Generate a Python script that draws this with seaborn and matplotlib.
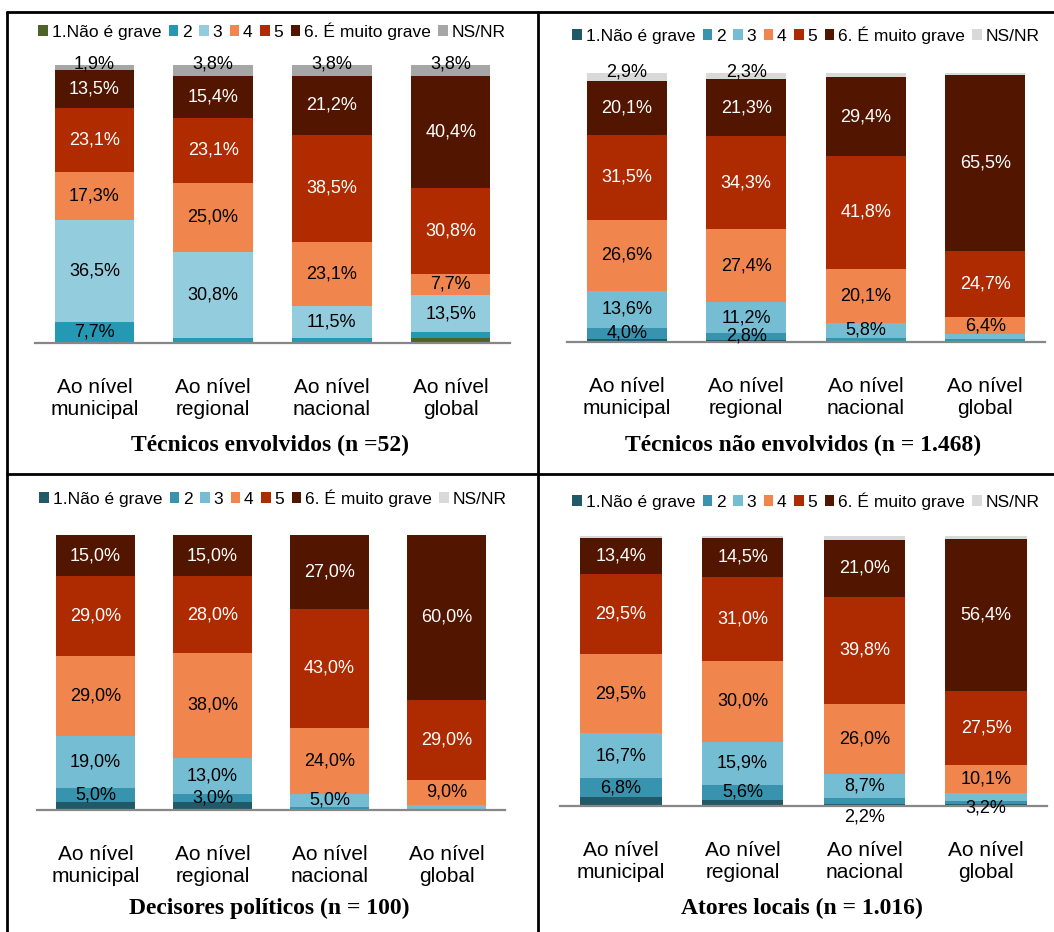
import matplotlib
matplotlib.use("Agg")
import matplotlib.pyplot as plt
from matplotlib.patches import Patch
from matplotlib.lines import Line2D
import numpy as np
import seaborn as sns

levels = ["municipal", "regional", "nacional", "global"]
tick_labels = ["Ao nível\nmunicipal", "Ao nível\nregional", "Ao nível\nnacional", "Ao nível\nglobal"]
categories = ["1.Não é grave", "2", "3", "4", "5", "6. É muito grave", "NS/NR"]

# linhas = níveis, colunas = categorias (1..6, NS/NR)
tec_envolvidos = [
    [0.0, 7.7, 36.5, 17.3, 23.1, 13.5, 1.9],
    [0.0, 1.9, 30.8, 25.0, 23.1, 15.4, 3.8],
    [0.0, 1.9, 11.5, 23.1, 38.5, 21.2, 3.8],
    [1.9, 1.9, 13.5, 7.7, 30.8, 40.4, 3.8],
]
tec_nao_envolvidos = [
    [1.3, 4.0, 13.6, 26.6, 31.5, 20.1, 2.9],
    [0.7, 2.8, 11.2, 27.4, 34.3, 21.3, 2.3],
    [0.5, 0.9, 5.8, 20.1, 41.8, 29.4, 1.5],
    [0.4, 0.6, 1.8, 6.4, 24.7, 65.5, 0.6],
]
decisores = [
    [3.0, 5.0, 19.0, 29.0, 29.0, 15.0, 0.0],
    [3.0, 3.0, 13.0, 38.0, 28.0, 15.0, 0.0],
    [0.0, 1.0, 5.0, 24.0, 43.0, 27.0, 0.0],
    [0.0, 0.0, 2.0, 9.0, 29.0, 60.0, 0.0],
]
atores = [
    [3.4, 6.8, 16.7, 29.5, 29.5, 13.4, 0.7],
    [2.3, 5.6, 15.9, 30.0, 31.0, 14.5, 0.7],
    [0.8, 2.2, 8.7, 26.0, 39.8, 21.0, 1.5],
    [0.8, 1.0, 3.2, 10.1, 27.5, 56.4, 1.0],
]
titles = ["Técnicos envolvidos (n =52)", "Técnicos não envolvidos (n = 1.468)",
          "Decisores políticos (n = 100)", "Atores locais (n = 1.016)"]

pal_first = ["#4F6228", "#2399B3", "#93CDDD", "#F0854D", "#B02B00", "#521500", "#A6A6A6"]
pal_rest = ["#215968", "#3894AE", "#75BDD3", "#F0854D", "#AE2A00", "#521500", "#D9D9D9"]

sns.set_style("white")
plt.rcParams["font.family"] = ["Liberation Sans", "DejaVu Sans"]
plt.rcParams["text.color"] = "black"
plt.rcParams["xtick.color"] = "black"

W, H = 1054, 932
fig = plt.figure(figsize=(W / 100, H / 100), dpi=100)

# posições dos painéis em pixels: esquerda, base (linha do eixo), largura, topo
panels = [
    (tec_envolvidos, pal_first, (35, 343, 475, 65), (272, 31), (270, 445)),
    (tec_nao_envolvidos, pal_rest, (567, 342, 478, 73), (806, 35), (803, 445)),
    (decisores, pal_rest, (37, 810, 468, 535), (273, 498), (269, 908)),
    (atores, pal_rest, (560, 806, 487, 536), (806, 501), (802, 908)),
]
# ajustes manuais de rótulos (painel, nível, categoria) -> deslocamento em %
nudges = {(3, 2, 1): -6.0, (3, 3, 2): -4.1}

for p, (data, pal, box, leg_xy, title_xy) in enumerate(panels):
    left, base, width, top = box
    ax = fig.add_axes([left / W, 1 - base / H, width / W, (base - top) / H])
    vals = np.array(data)
    cum = vals.cumsum(axis=1)
    for k in range(len(categories) - 1, -1, -1):
        sns.barplot(x=levels, y=cum[:, k], order=levels, color=pal[k], saturation=1,
                    width=0.67, errorbar=None, linewidth=0, ax=ax)
    for i in range(len(levels)):
        for k in range(1, len(categories)):
            v = vals[i, k]
            if k == 6:
                if v < 1.8:
                    continue
                y = cum[i, k] + 0.5
            else:
                if v <= 2.1:
                    continue
                y = cum[i, k] - v / 2 + nudges.get((p, i, k), 0)
            col = "white" if k in (4, 5) else "black"
            ax.text(i, y, f"{v:.1f}%".replace(".", ","), ha="center", va="center",
                    fontsize=13, color=col)
    ax.set_ylim(0, 100)
    ax.set_xlim(-0.5, 3.5)
    ax.set_yticks([])
    ax.set_xticks(range(4))
    ax.set_xticklabels(tick_labels, fontsize=15)
    ax.tick_params(axis="x", length=0, pad=25)
    ax.set_xlabel("")
    ax.set_ylabel("")
    for s in ["top", "left", "right"]:
        ax.spines[s].set_visible(False)
    ax.spines["bottom"].set_color("#878787")
    ax.spines["bottom"].set_linewidth(1.6)
    ax.patch.set_alpha(0)

    handles = [Patch(facecolor=c, edgecolor="none") for c in pal]
    fig.legend(handles, categories, loc="center",
               bbox_to_anchor=(leg_xy[0] / W, 1 - leg_xy[1] / H), ncol=7, frameon=False,
               fontsize=12.5, handlelength=0.55, handleheight=0.55, handletextpad=0.2,
               columnspacing=0.45, borderaxespad=0, borderpad=0)
    fig.text(title_xy[0] / W, 1 - title_xy[1] / H, titles[p], ha="center", va="center",
             fontsize=17, fontweight="bold", family=["Liberation Serif", "DejaVu Serif"])

# grelha da tabela
lines = [
    ((7, W), (12, 12)),
    ((7, 7), (12, H)),
    ((538, 538), (12, H)),
    ((7, W), (474, 474)),
]
for xs, ys in lines:
    fig.add_artist(Line2D([x / W for x in xs], [1 - y / H for y in ys], color="black",
                          linewidth=2, transform=fig.transFigure))

fig.savefig("out.png", dpi=100)
